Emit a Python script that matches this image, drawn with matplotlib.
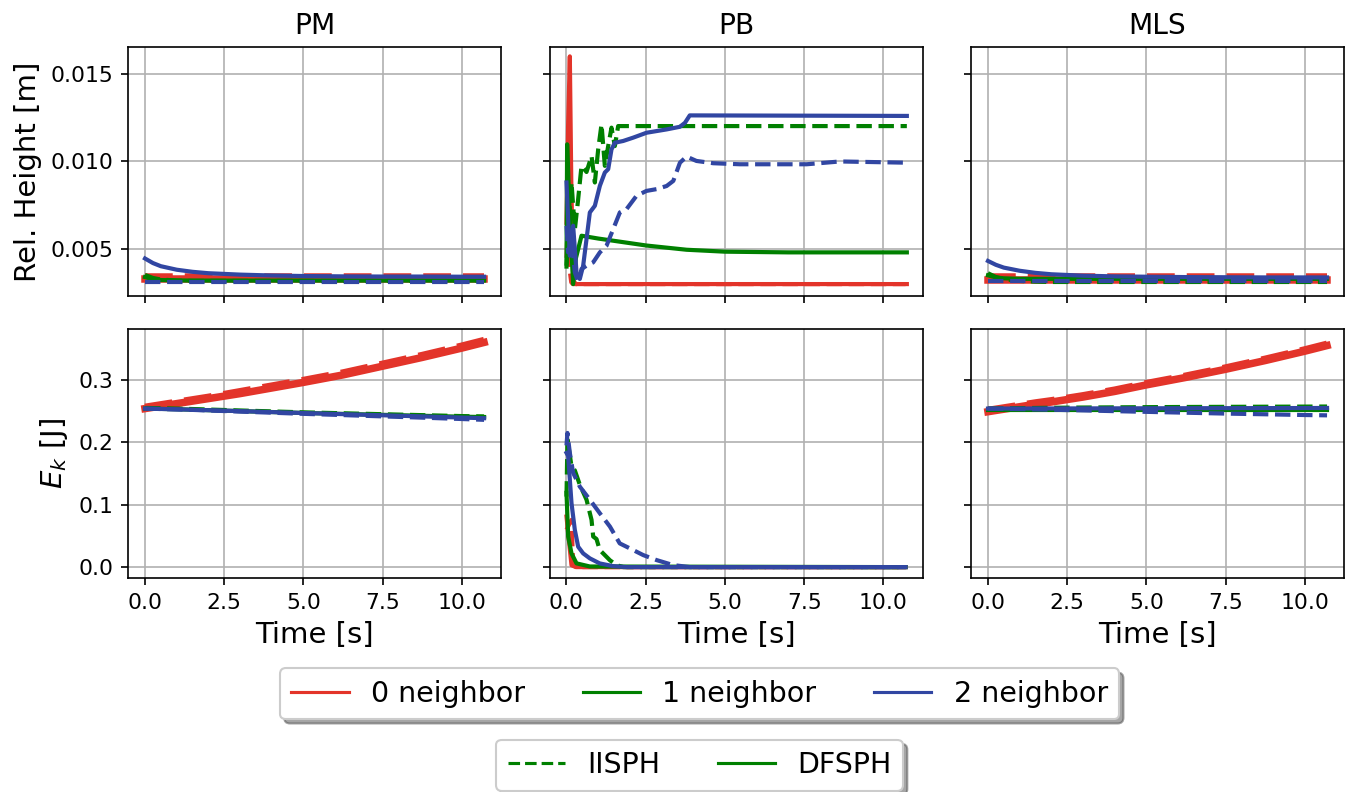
import numpy as np
from matplotlib import pyplot as plt
from matplotlib.lines import Line2D

methods = ["PM", "PB", "MLS"]
neighbor_labels = ["0 neighbor", "1 neighbor", "2 neighbor"]
solver_labels = ["IISPH", "DFSPH"]
colors = ["#e3342a", "green", "#3146a2"]

# coarse time grid used for the smooth PM / MLS runs
t_grid = [0.0, 0.25, 0.5, 1.0, 1.5, 2.0, 3.0, 4.0, 5.0, 6.25, 7.5, 8.75, 10.0, 10.7]

# ---- relative height, PM (rows: 0/1/2 neighbor) ----
pm_h_iisph = [
    [0.00340, 0.00340, 0.00340, 0.00340, 0.00340, 0.00340, 0.00340, 0.00340, 0.00340, 0.00340, 0.00340, 0.00340, 0.00340, 0.00340],
    [0.00352, 0.00335, 0.00326, 0.00320, 0.00318, 0.00318, 0.00318, 0.00318, 0.00318, 0.00318, 0.00318, 0.00318, 0.00318, 0.00318],
    [0.00310, 0.00310, 0.00310, 0.00310, 0.00310, 0.00310, 0.00310, 0.00310, 0.00310, 0.00310, 0.00310, 0.00310, 0.00310, 0.00310],
]
pm_h_dfsph = [
    [0.00328, 0.00328, 0.00328, 0.00328, 0.00328, 0.00328, 0.00328, 0.00328, 0.00328, 0.00328, 0.00328, 0.00328, 0.00328, 0.00328],
    [0.00340, 0.00328, 0.00323, 0.00321, 0.00320, 0.00320, 0.00320, 0.00320, 0.00320, 0.00320, 0.00320, 0.00320, 0.00320, 0.00320],
    [0.00446, 0.00420, 0.00402, 0.00382, 0.00370, 0.00362, 0.00354, 0.00349, 0.00346, 0.00344, 0.00343, 0.00343, 0.00342, 0.00342],
]

# ---- relative height, MLS ----
mls_h_iisph = [
    [0.00340, 0.00340, 0.00340, 0.00340, 0.00340, 0.00340, 0.00340, 0.00340, 0.00340, 0.00340, 0.00340, 0.00340, 0.00340, 0.00340],
    [0.00362, 0.00340, 0.00328, 0.00318, 0.00314, 0.00312, 0.00312, 0.00312, 0.00312, 0.00312, 0.00312, 0.00312, 0.00312, 0.00312],
    [0.00318, 0.00318, 0.00318, 0.00318, 0.00318, 0.00318, 0.00318, 0.00318, 0.00318, 0.00318, 0.00318, 0.00318, 0.00318, 0.00318],
]
mls_h_dfsph = [
    [0.00326, 0.00326, 0.00326, 0.00326, 0.00326, 0.00326, 0.00326, 0.00326, 0.00326, 0.00326, 0.00326, 0.00326, 0.00326, 0.00326],
    [0.00350, 0.00338, 0.00333, 0.00330, 0.00330, 0.00330, 0.00330, 0.00330, 0.00330, 0.00330, 0.00330, 0.00330, 0.00330, 0.00330],
    [0.00432, 0.00410, 0.00394, 0.00376, 0.00364, 0.00356, 0.00348, 0.00344, 0.00342, 0.00340, 0.00339, 0.00338, 0.00338, 0.00338],
]

# ---- kinetic energy, PM ----
pm_e_iisph = [
    [0.256, 0.258, 0.260, 0.264, 0.268, 0.272, 0.281, 0.290, 0.299, 0.311, 0.325, 0.339, 0.354, 0.363],
    [0.255, 0.2548, 0.2545, 0.254, 0.2533, 0.2525, 0.251, 0.2495, 0.248, 0.2465, 0.245, 0.2435, 0.242, 0.2415],
    [0.254, 0.2537, 0.2533, 0.2527, 0.2519, 0.251, 0.2492, 0.2474, 0.2456, 0.2436, 0.2415, 0.2395, 0.2373, 0.236],
]
pm_e_dfsph = [
    [0.254, 0.256, 0.258, 0.262, 0.266, 0.270, 0.278, 0.287, 0.296, 0.308, 0.322, 0.336, 0.351, 0.360],
    [0.254, 0.2538, 0.2535, 0.253, 0.2523, 0.2515, 0.250, 0.2485, 0.247, 0.2455, 0.244, 0.2425, 0.241, 0.2405],
    [0.254, 0.2537, 0.2534, 0.2528, 0.2521, 0.2514, 0.2499, 0.2484, 0.2469, 0.2451, 0.2433, 0.2415, 0.2396, 0.2386],
]

# ---- kinetic energy, MLS ----
mls_e_iisph = [
    [0.251, 0.253, 0.255, 0.259, 0.263, 0.2665, 0.2745, 0.2835, 0.294, 0.306, 0.319, 0.333, 0.348, 0.357],
    [0.254, 0.2542, 0.2544, 0.2547, 0.255, 0.2553, 0.2557, 0.256, 0.2563, 0.2566, 0.2568, 0.257, 0.2572, 0.2573],
    [0.254, 0.2538, 0.2536, 0.2532, 0.2527, 0.2522, 0.2511, 0.2499, 0.2488, 0.2474, 0.246, 0.2449, 0.2437, 0.2432],
]
mls_e_dfsph = [
    [0.249, 0.251, 0.253, 0.257, 0.261, 0.2645, 0.2725, 0.2815, 0.292, 0.304, 0.317, 0.331, 0.346, 0.355],
    [0.252, 0.252, 0.252, 0.252, 0.252, 0.252, 0.252, 0.252, 0.252, 0.252, 0.252, 0.252, 0.252, 0.252],
    [0.254, 0.254, 0.2541, 0.2541, 0.2542, 0.2542, 0.2543, 0.2544, 0.2545, 0.2546, 0.2547, 0.2548, 0.2549, 0.255],
]

# ---- PB: own time stamps per run, the early transient is fast ----
pb_h_iisph_t = [
    [0.0, 0.05, 0.1, 0.15, 0.2, 0.3, 10.7],
    [0.0, 0.158, 0.263, 0.368, 0.474, 0.632, 0.79, 0.895, 1.0, 1.105, 1.21, 1.316, 1.42, 1.526, 1.63, 1.84, 10.74],
    [0.0, 0.05, 0.158, 0.263, 0.368, 0.474, 0.632, 0.842, 1.053, 1.263, 1.474, 1.684, 1.895, 2.21, 2.526, 2.84, 3.16, 3.37, 3.58, 3.79, 4.1, 4.63, 5.47, 7.58, 8.63, 10.74],
]
pb_h_iisph = [
    [0.0045, 0.0072, 0.0038, 0.0031, 0.0030, 0.0030, 0.0030],
    [0.00405, 0.0088, 0.0061, 0.00785, 0.00975, 0.0094, 0.01031, 0.0088, 0.01069, 0.01212, 0.00975, 0.01088, 0.01193, 0.01088, 0.01202, 0.01202, 0.01202],
    [0.00633, 0.00481, 0.00557, 0.00367, 0.0031, 0.00386, 0.00405, 0.00424, 0.00481, 0.00519, 0.00614, 0.00709, 0.00728, 0.00804, 0.00832, 0.00842, 0.0086, 0.00889, 0.00993, 0.01028, 0.01003, 0.0099, 0.00984, 0.00984, 0.01, 0.00993],
]
pb_h_dfsph_t = [
    [0.0, 0.05, 0.105, 0.15, 0.21, 0.3, 10.74],
    [0.0, 0.02, 0.1, 0.21, 0.3, 0.474, 1.0, 2.526, 3.79, 5.0, 7.0, 10.74],
    [0.0, 0.105, 0.21, 0.316, 0.42, 0.526, 0.632, 0.737, 0.895, 1.053, 1.21, 1.316, 1.42, 1.526, 1.79, 2.105, 2.526, 3.16, 3.58, 3.74, 3.89, 10.74],
]
pb_h_dfsph = [
    [0.0065, 0.0120, 0.0160, 0.0090, 0.0032, 0.0030, 0.0030],
    [0.0040, 0.01098, 0.0070, 0.0030, 0.0045, 0.00576, 0.00560, 0.0052, 0.00496, 0.00485, 0.00481, 0.00481],
    [0.0088, 0.00462, 0.00633, 0.00367, 0.00329, 0.00405, 0.00557, 0.00709, 0.00747, 0.00861, 0.00937, 0.00956, 0.01069, 0.01107, 0.01117, 0.01136, 0.01164, 0.01183, 0.01198, 0.01221, 0.01263, 0.0126],
]

pb_e_iisph_t = [
    [0.0, 0.158, 0.21, 0.3, 10.7],
    [0.0, 0.03, 0.158, 0.263, 0.42, 0.632, 0.79, 0.842, 0.947, 1.05, 1.37, 1.58, 1.79, 10.7],
    [0.0, 0.03, 0.105, 0.21, 0.42, 0.737, 1.05, 1.37, 1.68, 2.0, 2.42, 2.84, 3.37, 3.9, 10.7],
]
pb_e_iisph = [
    [0.060, 0.0757, 0.003, 0.0, 0.0],
    [0.113, 0.2045, 0.1616, 0.155, 0.132, 0.108, 0.0757, 0.049, 0.045, 0.0274, 0.011, 0.0032, 0.0, 0.0],
    [0.195, 0.215, 0.183, 0.151, 0.129, 0.108, 0.0864, 0.065, 0.038, 0.030, 0.0193, 0.0113, 0.0032, 0.0, 0.0],
]
pb_e_dfsph_t = [
    [0.0, 0.053, 0.158, 0.3, 10.7],
    [0.0, 0.053, 0.158, 0.316, 0.737, 10.7],
    [0.0, 0.053, 0.158, 0.263, 0.368, 0.526, 0.737, 1.05, 1.47, 1.89, 10.7],
]
pb_e_dfsph = [
    [0.081, 0.054, 0.003, 0.0, 0.0],
    [0.119, 0.049, 0.022, 0.006, 0.001, 0.0],
    [0.183, 0.178, 0.1025, 0.0596, 0.0327, 0.022, 0.014, 0.0059, 0.0016, 0.0, 0.0],
]

plt.rcParams["font.family"] = "DejaVu Sans"
fig, axes = plt.subplots(2, 3, figsize=(8.987, 5.28), dpi=150, sharex=True, sharey="row")
fig.subplots_adjust(left=0.095, right=0.997, top=0.941, bottom=0.270, wspace=0.13, hspace=0.132)


def draw(ax, t_ii, y_ii, t_df, y_df, thick_red=False):
    for k in range(3):
        lw = 2.0
        if thick_red and k == 0:
            lw = 3.6
        ax.plot(t_ii[k], y_ii[k], color=colors[k], ls="--", lw=lw)
        ax.plot(t_df[k], y_df[k], color=colors[k], ls="-", lw=lw)


grid3 = [t_grid, t_grid, t_grid]
draw(axes[0, 0], grid3, pm_h_iisph, grid3, pm_h_dfsph, thick_red=True)
draw(axes[0, 1], pb_h_iisph_t, pb_h_iisph, pb_h_dfsph_t, pb_h_dfsph)
draw(axes[0, 2], grid3, mls_h_iisph, grid3, mls_h_dfsph, thick_red=True)
draw(axes[1, 0], grid3, pm_e_iisph, grid3, pm_e_dfsph, thick_red=True)
draw(axes[1, 1], pb_e_iisph_t, pb_e_iisph, pb_e_dfsph_t, pb_e_dfsph)
draw(axes[1, 2], grid3, mls_e_iisph, grid3, mls_e_dfsph, thick_red=True)

for j, name in enumerate(methods):
    axes[0, j].set_title(name, fontsize=13.5)
    axes[1, j].set_xlabel("Time [s]", fontsize=14)
for ax in axes.flat:
    ax.grid(True)
    ax.tick_params(labelsize=10.5)
axes[0, 0].set_xlim(-0.535, 11.235)
axes[0, 0].set_xticks([0, 2.5, 5, 7.5, 10])
axes[0, 0].set_ylim(0.00232, 0.01655)
axes[0, 0].set_yticks([0.005, 0.010, 0.015])
axes[1, 0].set_ylim(-0.0177, 0.3817)
axes[1, 0].set_yticks([0.0, 0.1, 0.2, 0.3])
axes[0, 0].set_ylabel("Rel. Height [m]", fontsize=14)
axes[1, 0].set_ylabel("$E_k$ [J]", fontsize=14)

nb_handles = [Line2D([], [], color=c, lw=1.5) for c in colors]
fig.legend(nb_handles, neighbor_labels, loc="upper center", bbox_to_anchor=(0.519, 0.174),
           ncol=3, fontsize=13.7, shadow=True)
sv_handles = [Line2D([], [], color="green", ls="--", lw=1.5), Line2D([], [], color="green", lw=1.5)]
fig.legend(sv_handles, solver_labels, loc="upper center", bbox_to_anchor=(0.519, 0.084),
           ncol=2, fontsize=13.7, shadow=True)

fig.savefig("out.png", dpi=150)
